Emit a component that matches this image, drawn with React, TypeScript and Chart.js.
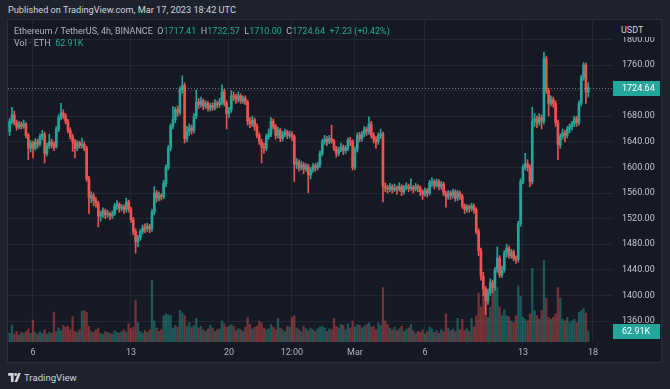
import React, { useEffect, useRef } from "react";
import { Chart, registerables } from "chart.js";
Chart.register(...registerables);

// 4h candles, Feb 4 08:00 -> Mar 17 16:00 (index 0..248): [open, high, low, close]
const ohlc: [number, number, number, number][] = [
  [1656,1676,1650,1672],[1672,1694,1668,1682],[1682,1688,1666,1670],[1670,1674,1658,1663],[1663,1672,1660,1668],
  [1668,1671,1660,1664],[1664,1674,1661,1668],[1668,1670,1646,1650],[1650,1653,1612,1630],[1630,1642,1624,1638],
  [1638,1641,1615,1630],[1630,1645,1627,1640],[1640,1644,1630,1636],[1636,1652,1633,1648],[1648,1658,1643,1652],
  [1652,1655,1607,1622],[1622,1638,1618,1634],[1634,1652,1630,1640],[1640,1644,1630,1636],[1636,1640,1626,1632],
  [1632,1664,1630,1660],[1660,1682,1656,1678],[1678,1700,1674,1685],[1685,1690,1676,1680],[1680,1684,1668,1672],
  [1672,1675,1654,1658],[1658,1662,1644,1648],[1648,1652,1625,1640],[1640,1644,1615,1630],[1630,1642,1626,1638],
  [1638,1641,1630,1634],[1634,1646,1630,1636],[1636,1640,1626,1630],[1630,1633,1578,1582],[1582,1586,1528,1552],
  [1552,1562,1545,1556],[1556,1560,1540,1548],[1548,1553,1538,1544],[1544,1547,1507,1524],[1524,1532,1516,1528],
  [1528,1537,1522,1532],[1532,1535,1520,1526],[1526,1533,1522,1528],[1528,1530,1518,1524],[1524,1532,1520,1528],
  [1528,1544,1525,1540],[1540,1548,1534,1542],[1542,1545,1530,1536],[1536,1542,1532,1538],[1538,1541,1528,1534],
  [1534,1552,1530,1546],[1546,1549,1530,1535],[1535,1538,1514,1518],[1518,1522,1495,1500],[1500,1504,1466,1484],
  [1484,1494,1476,1490],[1490,1503,1486,1500],[1500,1510,1496,1506],[1506,1512,1498,1504],[1504,1513,1500,1508],
  [1508,1511,1498,1504],[1504,1534,1500,1530],[1530,1570,1526,1560],[1560,1564,1546,1552],[1552,1562,1548,1556],
  [1556,1559,1549,1554],[1554,1580,1551,1575],[1575,1604,1570,1600],[1600,1634,1596,1630],[1630,1668,1626,1665],
  [1665,1695,1660,1675],[1675,1694,1670,1690],[1690,1696,1680,1686],[1686,1726,1682,1722],[1722,1743,1716,1728],
  [1728,1732,1638,1645],[1645,1664,1640,1656],[1656,1668,1650,1662],[1662,1666,1652,1658],[1658,1684,1654,1680],
  [1680,1721,1676,1702],[1702,1708,1692,1698],[1698,1710,1694,1704],[1704,1707,1690,1696],[1696,1704,1692,1700],
  [1700,1703,1688,1692],[1692,1700,1688,1697],[1697,1701,1689,1694],[1694,1706,1690,1700],[1700,1704,1693,1698],
  [1698,1708,1694,1702],[1702,1729,1698,1718],[1718,1722,1696,1700],[1700,1704,1660,1684],[1684,1694,1678,1690],
  [1690,1720,1686,1712],[1712,1718,1704,1710],[1710,1714,1700,1706],[1706,1718,1702,1712],[1712,1715,1700,1704],
  [1704,1712,1700,1708],[1708,1712,1698,1702],[1702,1705,1666,1672],[1672,1678,1662,1668],[1668,1680,1664,1674],
  [1674,1677,1658,1664],[1664,1668,1646,1650],[1650,1654,1636,1640],[1640,1644,1607,1632],[1632,1638,1622,1630],
  [1630,1652,1626,1648],[1648,1660,1644,1652],[1652,1678,1648,1672],[1672,1676,1660,1664],[1664,1667,1644,1650],
  [1650,1663,1646,1658],[1658,1661,1640,1645],[1645,1656,1641,1652],[1652,1660,1648,1655],[1655,1658,1645,1650],
  [1650,1657,1646,1652],[1652,1656,1642,1648],[1648,1651,1578,1605],[1605,1614,1598,1608],[1608,1612,1594,1600],
  [1600,1610,1596,1604],[1604,1608,1590,1598],[1598,1606,1594,1602],[1602,1605,1560,1588],[1588,1600,1582,1596],
  [1596,1606,1592,1602],[1602,1606,1594,1600],[1600,1608,1596,1604],[1604,1626,1600,1622],[1622,1644,1618,1640],
  [1640,1650,1636,1644],[1644,1648,1634,1640],[1640,1650,1637,1645],[1645,1666,1638,1641],[1641,1644,1626,1630],
  [1630,1633,1616,1622],[1622,1632,1618,1628],[1628,1638,1624,1632],[1632,1635,1620,1626],[1626,1634,1622,1630],
  [1630,1646,1626,1642],[1642,1647,1634,1640],[1640,1643,1596,1600],[1600,1632,1597,1628],[1628,1654,1624,1650],
  [1650,1655,1640,1645],[1645,1656,1641,1652],[1652,1664,1648,1660],[1660,1663,1650,1656],[1656,1679,1652,1668],
  [1668,1672,1646,1650],[1650,1654,1638,1644],[1644,1648,1630,1640],[1640,1654,1636,1650],[1650,1660,1645,1652],
  [1652,1655,1546,1570],[1570,1576,1562,1568],[1568,1572,1560,1566],[1566,1575,1562,1570],[1570,1573,1560,1565],
  [1565,1574,1562,1568],[1568,1571,1558,1566],[1566,1576,1563,1570],[1570,1573,1556,1562],[1562,1572,1558,1568],
  [1568,1576,1565,1571],[1571,1574,1562,1567],[1567,1582,1564,1569],[1569,1572,1560,1566],[1566,1575,1563,1570],
  [1570,1573,1562,1568],[1568,1571,1556,1562],[1562,1565,1550,1558],[1558,1568,1555,1564],[1564,1567,1554,1560],
  [1560,1580,1557,1576],[1576,1584,1570,1578],[1578,1581,1566,1572],[1572,1582,1569,1578],[1578,1581,1565,1570],
  [1570,1578,1566,1574],[1574,1577,1556,1560],[1560,1563,1538,1554],[1554,1564,1550,1560],[1560,1563,1550,1556],
  [1556,1566,1552,1562],[1562,1565,1547,1552],[1552,1564,1548,1560],[1560,1563,1550,1555],[1555,1558,1536,1540],
  [1540,1543,1528,1534],[1534,1542,1530,1538],[1538,1541,1530,1536],[1536,1544,1532,1540],[1540,1543,1528,1534],
  [1534,1537,1496,1500],[1500,1504,1462,1470],[1470,1474,1424,1430],[1430,1436,1400,1410],[1410,1414,1370,1392],
  [1392,1410,1386,1405],[1405,1426,1400,1420],[1420,1424,1404,1412],[1412,1444,1408,1440],[1440,1476,1436,1458],
  [1458,1462,1428,1432],[1432,1446,1428,1440],[1440,1470,1436,1466],[1466,1480,1460,1474],[1474,1477,1458,1462],
  [1462,1472,1458,1468],[1468,1471,1454,1458],[1458,1462,1450,1456],[1456,1516,1452,1512],[1512,1582,1508,1578],
  [1578,1604,1574,1600],[1600,1622,1596,1606],[1606,1612,1594,1600],[1600,1604,1570,1578],[1578,1694,1574,1672],
  [1672,1684,1664,1676],[1676,1680,1662,1670],[1670,1684,1666,1678],[1678,1682,1660,1672],[1672,1780,1668,1770],
  [1770,1774,1716,1720],[1720,1724,1680,1700],[1700,1712,1696,1706],[1706,1710,1694,1700],[1700,1704,1664,1670],
  [1670,1674,1612,1635],[1635,1652,1630,1648],[1648,1660,1644,1654],[1654,1658,1640,1650],[1650,1664,1646,1660],
  [1660,1668,1654,1664],[1664,1672,1658,1668],[1668,1680,1664,1676],[1676,1680,1664,1670],[1670,1704,1666,1700],
  [1700,1744,1696,1740],[1740,1764,1736,1760],[1760,1763,1700,1717.41],[1717.41,1732.57,1710,1724.64],
];

// volume per candle, thousands of ETH
const volumes: number[] = [
  50, 95, 45, 60, 40, 55, 50, 60, 75, 50,
  125, 55, 45, 60, 50, 70, 45, 55, 50, 170,
  60, 80, 65, 95, 85, 90, 70, 145, 60, 55,
  70, 175, 180, 170, 90, 60, 55, 70, 80, 50,
  45, 60, 55, 50, 45, 65, 55, 50, 60, 70,
  55, 105, 75, 85, 240, 110, 60, 50, 65, 55,
  70, 350, 120, 80, 60, 70, 150, 160, 155, 150,
  80, 95, 85, 180, 165, 150, 90, 110, 85, 95,
  135, 80, 90, 70, 60, 75, 95, 80, 60, 70,
  75, 120, 105, 85, 90, 100, 90, 65, 75, 70,
  60, 85, 140, 100, 75, 85, 90, 120, 110, 80,
  70, 75, 100, 85, 70, 135, 80, 70, 60, 90,
  85, 140, 150, 80, 70, 60, 90, 75, 65, 80,
  70, 60, 75, 85, 90, 80, 60, 75, 70, 135,
  90, 80, 100, 95, 70, 105, 80, 120, 85, 100,
  95, 80, 90, 100, 110, 85, 90, 70, 110, 95,
  310, 120, 100, 80, 70, 85, 65, 75, 90, 60,
  70, 80, 100, 65, 50, 60, 55, 70, 45, 60,
  85, 75, 55, 65, 50, 70, 60, 160, 80, 65,
  75, 60, 135, 70, 130, 65, 75, 60, 135, 85,
  150, 280, 200, 270, 300, 140, 200, 290, 300, 310,
  200, 150, 185, 150, 145, 120, 110, 150, 320, 260,
  140, 130, 120, 160, 420, 180, 150, 130, 180, 465,
  250, 140, 130, 140, 160, 310, 250, 130, 120, 140,
  110, 120, 130, 110, 170, 180, 190, 165, 62.91,
];

const xTickIdx = [10, 52, 94, 121, 148, 178, 220, 250];
const xTickLabels = ["6", "13", "20", "12:00", "Mar", "6", "13", "18"];
const priceTicks = [1360, 1400, 1440, 1480, 1520, 1560, 1600, 1640, 1680, 1720, 1760, 1800];
const priceRange = [1327.2, 1828.75];
const xRange = [-0.7, 258.6];
const volumeMax = 1830;
const lastCloseLabel = "1724.64";
const lastVolumeLabel = "62.91K";

const UP = "#26a69a";
const DOWN = "#ef5350";
const UP_VOL = "rgba(38,166,154,0.45)";
const DOWN_VOL = "rgba(239,83,80,0.45)";
const GRID = "#232733";
const TEXT = "#b2b5be";
const FONT = "Roboto, 'DejaVu Sans', sans-serif";

const zeroPad = (s: any) => {
  s.paddingTop = 0;
  s.paddingBottom = 0;
  s.paddingLeft = 0;
  s.paddingRight = 0;
};

export default function App() {
  const ref = useRef<HTMLCanvasElement>(null);
  useEffect(() => {
    if (!ref.current) return;
    const isUp = ohlc.map((c) => c[3] >= c[0]);
    const last = ohlc[ohlc.length - 1];
    const lastVol = volumes[volumes.length - 1];
    const overlay = {
      id: "overlay",
      afterDatasetsDraw(chart: any) {
        const { ctx, chartArea: a, scales } = chart;
        const y = Math.round(scales.y.getPixelForValue(last[3]));
        ctx.save();
        ctx.strokeStyle = "rgba(150,160,170,0.7)";
        ctx.lineWidth = 1;
        ctx.setLineDash([1, 2]);
        ctx.beginPath();
        ctx.moveTo(a.left, y + 0.5);
        ctx.lineTo(a.right, y + 0.5);
        ctx.stroke();
        ctx.setLineDash([]);
        ctx.font = `9px ${FONT}`;
        ctx.textBaseline = "middle";
        ctx.fillStyle = UP;
        ctx.fillRect(a.right, y - 7, 47, 15);
        ctx.fillStyle = "#ffffff";
        ctx.fillText(lastCloseLabel, a.right + 9, y + 1);
        const vy = Math.round(scales.yv.getPixelForValue(lastVol));
        ctx.fillStyle = isUp[isUp.length - 1] ? UP : DOWN;
        ctx.fillRect(a.right, vy - 7, 47, 15);
        ctx.fillStyle = "#ffffff";
        ctx.fillText(lastVolumeLabel, a.right + 9, vy + 1);
        ctx.restore();
      },
    };
    const chart = new Chart(ref.current, {
      type: "bar",
      data: {
        datasets: [
          {
            label: "body",
            data: ohlc.map((c, i) => ({ x: i, y: [c[0], c[3]] })) as any,
            backgroundColor: isUp.map((u) => (u ? UP : DOWN)),
            barThickness: 2,
            grouped: false,
            order: 1,
            yAxisID: "y",
          },
          {
            label: "wick",
            data: ohlc.map((c, i) => ({ x: i, y: [c[2], c[1]] })) as any,
            backgroundColor: isUp.map((u) => (u ? UP : DOWN)),
            barThickness: 1,
            grouped: false,
            order: 2,
            yAxisID: "y",
          },
          {
            label: "volume",
            data: volumes.map((v, i) => ({ x: i, y: v })) as any,
            backgroundColor: isUp.map((u) => (u ? UP_VOL : DOWN_VOL)),
            barThickness: 1.6,
            grouped: false,
            order: 3,
            yAxisID: "yv",
          },
        ],
      },
      options: {
        animation: false,
        responsive: false,
        maintainAspectRatio: false,
        layout: { padding: { top: 1, left: 0, right: 0, bottom: 0 } },
        plugins: { legend: { display: false }, tooltip: { enabled: false } },
        scales: {
          x: {
            type: "linear",
            offset: false,
            min: xRange[0],
            max: xRange[1],
            afterBuildTicks: (s: any) => {
              s.ticks = xTickIdx.map((v) => ({ value: v }));
            },
            afterFit: (s: any) => {
              s.height = 20;
              zeroPad(s);
            },
            ticks: {
              autoSkip: false,
              maxRotation: 0,
              padding: 5,
              color: TEXT,
              font: { family: FONT, size: 9 },
              callback: (v: any) => {
                const k = xTickIdx.indexOf(Number(v));
                return k >= 0 ? xTickLabels[k] : "";
              },
            },
            grid: { color: GRID, drawTicks: false, offset: false },
            border: { display: false },
          },
          y: {
            position: "right",
            min: priceRange[0],
            max: priceRange[1],
            afterBuildTicks: (s: any) => {
              s.ticks = priceTicks.map((v) => ({ value: v }));
            },
            afterFit: (s: any) => {
              s.width = 48;
              zeroPad(s);
            },
            ticks: {
              padding: 9,
              color: "#c3c6ce",
              font: { family: FONT, size: 9 },
              callback: (v: any) => Number(v).toFixed(2),
            },
            grid: { color: GRID, drawTicks: false },
            border: { display: false },
          },
          yv: { display: false, min: 0, max: volumeMax },
        },
      },
      plugins: [overlay],
    } as any);
    return () => chart.destroy();
  }, []);

  const teal = { color: "#22ab94" };
  return (
    <div
      style={{
        position: "fixed",
        left: 0,
        top: 0,
        width: 670,
        height: 389,
        background: "#1e222d",
        fontFamily: FONT,
        overflow: "hidden",
      }}
    >
      <div style={{ position: "absolute", left: 8, top: 3, fontSize: 9.2, color: "#d1d4dc", lineHeight: "14px" }}>
        Published on TradingView.com, Mar 17, 2023 18:42 UTC
      </div>
      <div
        style={{
          position: "absolute",
          left: 7,
          top: 19,
          width: 653,
          height: 342,
          border: "1px solid #2a2e39",
          background: "#151924",
        }}
      >
        <canvas ref={ref} width={653} height={342} style={{ display: "block", width: 653, height: 342 }} />
        <div
          style={{
            position: "absolute",
            left: 606,
            top: 1,
            width: 46,
            height: 16,
            background: "#151924",
            color: "#d1d4dc",
            fontSize: 9,
            lineHeight: "18px",
            paddingLeft: 7,
            boxSizing: "border-box",
          }}
        >
          USDT
        </div>
        <div style={{ position: "absolute", left: 6, top: 5, fontSize: 9, lineHeight: "12px", color: TEXT, whiteSpace: "nowrap" }}>
          <div>
            Ethereum / TetherUS, 4h, BINANCE&nbsp; O<span style={teal}>1717.41</span>&nbsp; H<span style={teal}>1732.57</span>&nbsp; L
            <span style={teal}>1710.00</span>&nbsp; C<span style={teal}>1724.64</span>&nbsp; <span style={teal}>+7.23 (+0.42%)</span>
          </div>
          <div>
            Vol · ETH&nbsp; <span style={teal}>62.91K</span>
          </div>
        </div>
      </div>
      <div style={{ position: "absolute", left: 8, top: 372, display: "flex", alignItems: "center", gap: 3 }}>
        <svg width="13" height="9" viewBox="0 0 14 10">
          <path d="M0 0 H6 V10 H3 V3 H0 Z" fill="#d1d4dc" />
          <circle cx="8.3" cy="1.6" r="1.6" fill="#d1d4dc" />
          <path d="M11 0 H14 L10 10 H7 Z" fill="#d1d4dc" />
        </svg>
        <span style={{ fontSize: 9.6, color: "#d1d4dc" }}>TradingView</span>
      </div>
    </div>
  );
}
